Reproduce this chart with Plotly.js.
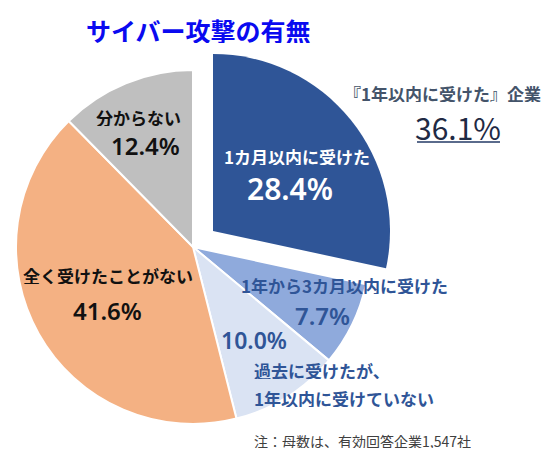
<!DOCTYPE html>
<html>
<head>
<meta charset="utf-8">
<script src="https://cdn.plot.ly/plotly-3.0.1.min.js"></script>
<style>
  html, body { margin: 0; padding: 0; background: #fff; }
  #chart { width: 559px; height: 470px; }
</style>
</head>
<body>
<div id="chart"></div>
<script>
// slices, clockwise from 12 o'clock
const labels = ['1カ月以内に受けた', '1年から3カ月以内に受けた', '過去に受けたが、\n1年以内に受けていない', '全く受けたことがない', '分からない'];
const values = [28.4, 7.7, 10.0, 41.6, 12.4];
const colors = ['#2F5597', '#8FAADC', '#DAE3F3', '#F4B183', '#BFBFBF'];

const chartTitle = 'サイバー攻撃の有無';
const recentLabel = '『1年以内に受けた』企業';
const recentValue = 36.1;
const note = '注：母数は、有効回答企業1,547社';

const W = 559, H = 470;
const FONT = '"Noto Sans CJK JP", "Noto Sans", sans-serif';
const NUM_FONT = '"Noto Sans", "Noto Sans CJK JP", sans-serif';

function px(x, y) {
    // pixel position -> paper coords
    return {x: x / W, y: 1 - y / H};
}

function pct(v) {
    return v.toFixed(1) + '%';
}

// main pie (pulled slice left transparent) and the pulled slice drawn separately
let cx = 193, cy = 247, r = 177;
let pullDx = 20, pullDy = -16;

let base = {
    type: 'pie',
    labels: labels,
    values: values,
    sort: false,
    direction: 'clockwise',
    rotation: 0,
    textinfo: 'none',
    hoverinfo: 'skip',
    showlegend: false,
    domain: {
        x: [(cx - r) / W, (cx + r) / W],
        y: [1 - (cy + r) / H, 1 - (cy - r) / H]
    },
    marker: {
        colors: colors.map((c, i) => i === 0 ? 'rgba(0,0,0,0)' : c),
        line: {color: '#ffffff', width: 2}
    }
};

let pulled = {
    type: 'pie',
    labels: labels,
    values: values,
    sort: false,
    direction: 'clockwise',
    rotation: 0,
    textinfo: 'none',
    hoverinfo: 'skip',
    showlegend: false,
    domain: {
        x: [(cx + pullDx - r) / W, (cx + pullDx + r) / W],
        y: [1 - (cy + pullDy + r) / H, 1 - (cy + pullDy - r) / H]
    },
    marker: {
        colors: colors.map((c, i) => i === 0 ? c : 'rgba(0,0,0,0)'),
        line: {color: '#ffffff', width: 0}
    }
};

// text annotations
let annotations = [];
function addText(text, x, y, size, color, weight, anchor, family) {
    let p = px(x, y);
    annotations.push({
        xref: 'paper', yref: 'paper',
        x: p.x, y: p.y,
        xanchor: anchor || 'center', yanchor: 'middle',
        height: Math.round(size * 1.05),
        text: text,
        showarrow: false,
        font: {family: family || FONT, size: size, color: color, weight: weight}
    });
}

function addPct(v, x, y, size, color) {
    addText(pct(v), x, y, size, color, 600, 'center', NUM_FONT);
}

addText(chartTitle, 198, 30, 25, '#0A0AF0', 'bold');

// 1カ月以内
addText(labels[0], 297, 156, 17, '#ffffff', 'bold');
addPct(values[0], 290, 188, 30, '#ffffff');
// 1年から3カ月以内
addText(labels[1], 344, 285, 17, '#2F5597', 'bold');
addPct(values[1], 322, 315, 24, '#2F5597');
// 過去に受けたが
let pastLines = labels[2].split('\n');
addPct(values[2], 254, 340, 23, '#2F5597');
addText(pastLines[0], 252, 370, 17, '#2F5597', 'bold', 'left');
addText(pastLines[1], 252, 398, 17, '#2F5597', 'bold', 'left');
// 全く受けたことがない
addText(labels[3], 108, 275, 17, '#111111', 'bold');
addPct(values[3], 107, 310, 24, '#111111');
// 分からない
addText(labels[4], 138, 117, 17, '#111111', 'bold');
addPct(values[4], 145, 145, 24, '#111111');

// 1年以内に受けた (total)
addText(recentLabel, 442, 93, 17, '#44546A', 'bold');
addText(pct(recentValue), 458, 127, 30, '#1F2A44', 'normal');

addText(note, 362, 440, 14, '#404040', 'normal');

let u0 = px(417, 142), u1 = px(500, 142);
let layout = {
    width: W,
    height: H,
    margin: {l: 0, r: 0, t: 0, b: 0},
    paper_bgcolor: '#ffffff',
    plot_bgcolor: '#ffffff',
    showlegend: false,
    annotations: annotations,
    shapes: [{
        type: 'line',
        xref: 'paper', yref: 'paper',
        x0: u0.x, y0: u0.y, x1: u1.x, y1: u1.y,
        line: {color: '#5A6B8C', width: 2}
    }]
};

Plotly.newPlot('chart', [base, pulled], layout, {displayModeBar: false, staticPlot: true});
</script>
</body>
</html>
